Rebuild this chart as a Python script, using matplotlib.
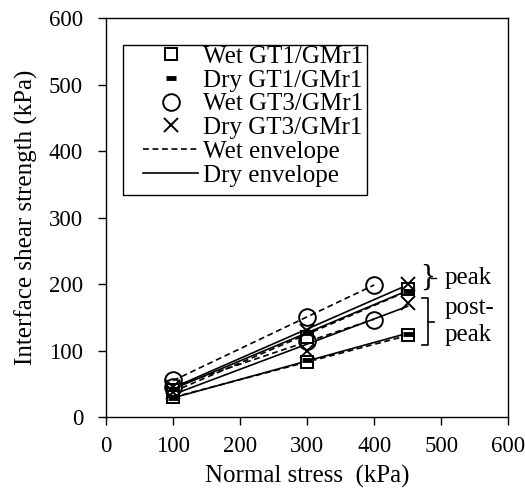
import numpy as np
import matplotlib
matplotlib.use("Agg")
import matplotlib.pyplot as plt
from matplotlib.lines import Line2D
from matplotlib.patches import Rectangle

plt.rcParams['font.family'] = 'serif'
plt.rcParams['font.serif'] = ['Liberation Serif', 'DejaVu Serif']
plt.rcParams['font.size'] = 18

# === DATOS ===
sigma_450 = [100, 300, 450]   # normal stress for GT1 and dry GT3
sigma_400 = [100, 300, 400]   # normal stress for wet GT3

wet_gt1_peak = [40, 120, 192]
wet_gt1_post = [30, 82, 123]
dry_gt1_peak = [42, 127, 190]
dry_gt1_post = [28, 86, 125]
wet_gt3_peak = [55, 150, 199]
wet_gt3_post = [45, 115, 146]
dry_gt3_peak = [45, 130, 200]
dry_gt3_post = [38, 100, 172]

x_ticks = [0, 100, 200, 300, 400, 500, 600]
y_ticks = [0, 100, 200, 300, 400, 500, 600]

series = [
    # (x, y, marker, wet?)
    (sigma_450, wet_gt1_peak, 's', True),
    (sigma_450, wet_gt1_post, 's', True),
    (sigma_450, dry_gt1_peak, '_', False),
    (sigma_450, dry_gt1_post, '_', False),
    (sigma_400, wet_gt3_peak, 'o', True),
    (sigma_400, wet_gt3_post, 'o', True),
    (sigma_450, dry_gt3_peak, 'x', False),
    (sigma_450, dry_gt3_post, 'x', False),
]

# estilos de marcador
sty = {
    's': dict(marker='s', ms=9, mew=1.4, mfc='white', mec='black'),
    '_': dict(marker='_', ms=7.5, mew=3.5, color='black'),
    'o': dict(marker='o', ms=12, mew=1.4, mfc='none', mec='black'),
    'x': dict(marker='x', ms=10, mew=1.4, color='black'),
}
zo = {'s': 3, '_': 4, 'o': 3, 'x': 4}
dash = (0, (3.5, 2.2))

fig = plt.figure(figsize=(5.25, 4.90), dpi=100)
ax = fig.add_axes([0.202, 0.149, 0.766, 0.814])

# === ENVOLVENTES (ajuste lineal de cada serie) ===
for x, y, m, wet in series:
    x = np.array(x, dtype=float)
    k, b = np.polyfit(x, y, 1)
    xs = np.array([x.min(), x.max()])
    ax.plot(xs, k * xs + b, color='black', lw=1.2,
            ls=dash if wet else '-', zorder=2)

# === PUNTOS ===
for x, y, m, wet in series:
    ax.plot(x, y, ls='none', zorder=zo[m], **sty[m])

ax.set_xlim(0, 600)
ax.set_ylim(0, 600)
ax.set_xticks(x_ticks)
ax.set_yticks(y_ticks)
ax.tick_params(direction='out', length=5.5, width=1, labelsize=16.5)
ax.tick_params(axis='x', pad=8)
ax.tick_params(axis='y', pad=11)
for s in ax.spines.values():
    s.set_linewidth(1)
ax.set_xlabel('Normal stress  (kPa)', fontsize=18, labelpad=6)
ax.set_ylabel('Interface shear strength (kPa)', fontsize=18, labelpad=8)

# === LEYENDA ===
handles = [Line2D([], [], ls='none', **sty[k]) for k in ['s', '_', 'o', 'x']]
handles += [
    Line2D([], [], ls=dash, lw=1.2, color='black'),
    Line2D([], [], ls='-', lw=1.2, color='black'),
]
labels = ['Wet GT1/GMr1', 'Dry GT1/GMr1', 'Wet GT3/GMr1', 'Dry GT3/GMr1',
          'Wet envelope', 'Dry envelope']
leg = ax.legend(handles, labels, loc='upper left', bbox_to_anchor=(0.092, 0.932),
                borderaxespad=0, frameon=False, fontsize=18, handlelength=2.2,
                handletextpad=0.2, labelspacing=0.05, borderpad=0)
leg.set_zorder(6)
ax.add_patch(Rectangle((0.042, 0.556), 0.607, 0.376, transform=ax.transAxes,
                       fc='white', ec='black', lw=1, zorder=5))

# === LLAVES peak / post-peak ===
bx = 471
ax.text(bx - 2, 209, '}', fontsize=22, ha='left', va='center', clip_on=False)
ax.plot([bx + 14, bx + 22], [209, 209], color='black', lw=1.0, clip_on=False)
ax.text(bx + 34, 209, 'peak', fontsize=18, ha='left', va='center')
ax.plot([bx, bx + 10, bx + 10, bx], [179, 179, 108, 108], color='black', lw=1.2,
        clip_on=False)
ax.plot([bx + 10, bx + 18], [143, 143], color='black', lw=1.2, clip_on=False)
ax.text(bx + 34, 164, 'post-', fontsize=18, ha='left', va='center')
ax.text(bx + 34, 124, 'peak', fontsize=18, ha='left', va='center')

fig.savefig('out.png', dpi=100)
